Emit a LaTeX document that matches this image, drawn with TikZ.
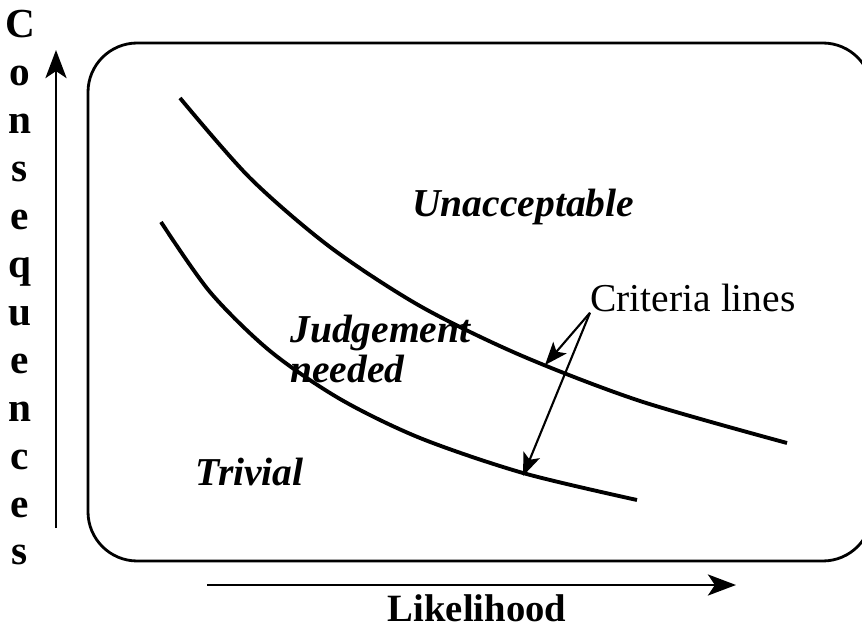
\documentclass[tikz,border=0pt]{standalone}
\usepackage{fontspec}
\setmainfont{Liberation Serif}
\usetikzlibrary{arrows.meta}

\tikzset{
	region/.style={font=\fontsize{22.5}{22.5}\selectfont\bfseries\itshape, inner sep=0pt},
	axislabel/.style={font=\fontsize{22}{22}\selectfont\bfseries, inner sep=0pt},
	critline/.style={line width=2.2pt},
	pointer/.style={line width=1.2pt, -{Stealth[length=13pt,width=10pt,inset=3pt]}},
	axis/.style={line width=1.5pt, -{Stealth[length=16pt,width=12pt,inset=4pt]}}
}

\begin{document}
\begin{tikzpicture}[x=0.02cm, y=-0.02cm]
		\useasboundingbox (0,0) rectangle (862,631);
		\fill[white] (0,0) rectangle (862,631);
		
		% frame
		\draw[line width=1.6pt, rounded corners=28pt] (88,43) rectangle (872,561);
		
		% consequences axis
		\coordinate (ybot) at (56,528);
		\coordinate (ytop) at (56,50);
		\draw[axis] (ybot) -- (ytop);
		\foreach \ch [count=\i] in {C,o,n,s,e,q,u,e,n,c,e,s}
			\node[axislabel, font=\fontsize{23.5}{23.5}\selectfont\bfseries, anchor=base] (c\i) at (20,{38+47.9*(\i-1)}) {\ch};
		
		% likelihood axis
		\coordinate (xleft) at (207,585);
		\coordinate (xright) at (736,585);
		\draw[axis] (xleft) -- (xright);
		\node[axislabel, anchor=base] (likeli) at (477,621) {Likelihood};
		
		% criteria lines
		\draw[critline] plot [smooth] coordinates {(180,98) (250,178) (330,247) (420,306) (520,355) (640,401) (787,443)};
		\draw[critline] plot [smooth] coordinates {(161,222) (210,292) (270,351) (340,399) (420,438) (523,473) (637,500)};
		
		% regions
		\node[region, anchor=base west] (unacc) at (412,217) {Unacceptable};
		\node[region, anchor=base west, align=left] (judge) at (290,382) {Judgement\\needed};
		\node[region, anchor=base west] (trivial) at (195,485) {Trivial};
		
		% label with pointers
		\node[font=\fontsize{22.5}{22}\selectfont, inner sep=0pt, anchor=base west] (crit) at (590,312) {Criteria lines};
		\coordinate (tipA) at (545,365);
		\coordinate (tipB) at (523,476);
		\draw[pointer] (crit.south west) -- (tipA);
		\draw[pointer] (crit.south west) -- (tipB);
		
	\end{tikzpicture}
\end{document}
